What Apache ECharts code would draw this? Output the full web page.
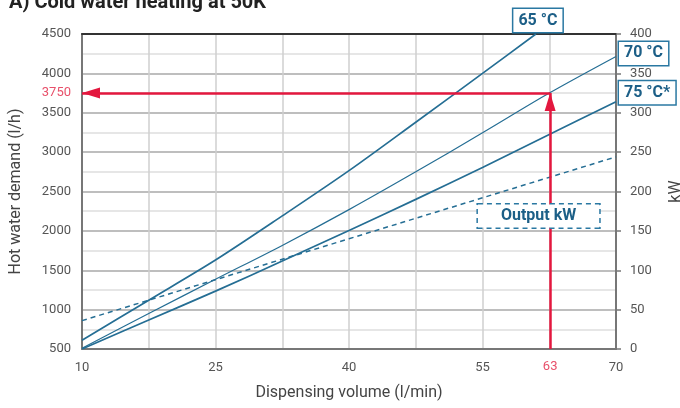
<!DOCTYPE html>
<html>
<head>
<meta charset="utf-8">
<script src="https://cdn.jsdelivr.net/npm/echarts@6/dist/echarts.min.js"></script>
<style>
html, body { margin: 0; padding: 0; background: #fff; }
#main { width: 680px; height: 408px; }
</style>
</head>
<body>
<div id="main"></div>
<script>
// hot water demand (l/h) over dispensing volume (l/min)
var line65 = [[10, 610], [17.5, 1120], [25, 1630], [32.5, 2190], [40, 2765], [47.5, 3380], [55, 4000], [61, 4500]];
var line70 = [[10, 510], [17.5, 950], [25, 1385], [32.5, 1815], [40, 2270], [47.5, 2750], [55, 3245], [62.5, 3750], [70, 4215]];
var line75 = [[10, 500], [17.5, 868], [25, 1235], [32.5, 1617], [40, 2005], [47.5, 2400], [55, 2806], [62.5, 3225], [70, 3641]];
// output in kW (right axis)
var outputKw = [[10, 36], [25, 88], [40, 140], [55, 192], [70, 244]];

var xTicks = [10, 25, 40, 55, 70];
var pickFlow = 62.6, pickFlowLabel = '63';
var pickDemand = 3750;
var outputBoxAt = [61.3, 169];

var blue = '#256e94';
var boxBlue = '#1c5f87';
var red = '#e3173e';
var font = 'Roboto, "DejaVu Sans", sans-serif';

var myChart = echarts.init(document.getElementById('main'));

function boxLabel(pos, offset) {
    return {
        show: true,
        position: pos,
        distance: 2,
        offset: offset,
        formatter: '{b}',
        color: boxBlue,
        fontSize: 16,
        fontWeight: 'bold',
        fontFamily: font,
        backgroundColor: '#fff',
        borderColor: '#2a78a2',
        borderWidth: 1.5,
        padding: [4, 5, 3, 5]
    };
}

function tempBox(name, data, pos, offset) {
    return {
        silent: true,
        symbol: 'rect',
        symbolSize: 0,
        itemStyle: { color: 'transparent' },
        label: boxLabel(pos, offset),
        data: [{ name: name, coord: data[data.length - 1] }]
    };
}

function plain(v) { return String(v); }

var option = {
    animation: false,
    title: {
        text: 'A) Cold water heating at 50K',
        left: 4,
        top: -12,
        textStyle: { fontSize: 20, fontWeight: 'bold', color: '#222', fontFamily: font }
    },
    grid: { left: 82, right: 64, top: 34, bottom: 59, outerBoundsMode: 'none', containLabel: false },
    xAxis: [{
        type: 'value',
        min: 10,
        max: 70,
        interval: 7.5,
        name: 'Dispensing volume (l/min)',
        nameLocation: 'middle',
        nameGap: 36,
        nameTextStyle: { color: '#444', fontSize: 16, fontFamily: font },
        axisLine: { show: true, lineStyle: { color: '#777', width: 2 } },
        axisTick: { show: false },
        axisLabel: {
            color: '#555', fontSize: 13, margin: 12, fontFamily: font,
            formatter: function (v) { return xTicks.indexOf(v) >= 0 ? String(v) : ''; }
        },
        splitLine: { show: true, lineStyle: { color: '#cfcfcf', width: 1.5 } }
    }, {
        // dark top frame
        type: 'value',
        position: 'top',
        min: 10,
        max: 70,
        axisLine: { show: true, onZero: false, lineStyle: { color: '#333', width: 2 } },
        axisTick: { show: false },
        axisLabel: { show: false },
        splitLine: { show: false }
    }],
    yAxis: [{
        type: 'value',
        min: 500,
        max: 4500,
        interval: 500,
        name: 'Hot water demand (l/h)',
        nameLocation: 'middle',
        nameGap: 58,
        nameRotate: 90,
        nameTextStyle: { color: '#444', fontSize: 16, fontFamily: font },
        axisLine: { show: true, lineStyle: { color: '#777', width: 2 } },
        axisTick: { show: false },
        axisLabel: { color: '#555', fontSize: 13, margin: 11, fontFamily: font, formatter: plain },
        splitLine: { lineStyle: { color: '#a8a8a8', width: 1.5 } },
        minorTick: { show: false, splitNumber: 2 },
        minorSplitLine: { show: true, lineStyle: { color: '#dedede', width: 1.5 } }
    }, {
        type: 'value',
        min: 0,
        max: 400,
        interval: 50,
        position: 'right',
        name: 'kW',
        nameLocation: 'middle',
        nameGap: 52,
        nameRotate: 90,
        nameTextStyle: { color: '#444', fontSize: 16, fontFamily: font },
        axisLine: { show: true, onZero: false, lineStyle: { color: '#777', width: 2 } },
        axisTick: { show: true, length: 5, lineStyle: { color: '#777', width: 1.5 } },
        axisLabel: { color: '#555', fontSize: 13, margin: 14, fontFamily: font, formatter: plain },
        splitLine: { show: false }
    }],
    series: [{
        name: '65 °C',
        type: 'line',
        data: line65,
        symbol: 'none',
        smooth: 0.3,
        z: 2,
        lineStyle: { color: blue, width: 1.7 },
        markPoint: tempBox('65 °C', line65, 'top', [2, 0])
    }, {
        name: '70 °C',
        type: 'line',
        data: line70,
        symbol: 'none',
        smooth: 0.3,
        z: 3,
        lineStyle: { color: blue, width: 1.2 },
        markPoint: tempBox('70 °C', line70, 'right', [1, -3]),
        markLine: {
            silent: true,
            symbol: ['none', 'triangle'],
            symbolSize: [11, 18],
            symbolOffset: [0, [0, '50%']],
            lineStyle: { color: red, width: 2.5, type: 'solid' },
            label: { color: '#e8506a', fontSize: 13, fontFamily: font },
            data: [
                [{ coord: [pickFlow, 500], label: { show: true, position: 'start', distance: 11, formatter: pickFlowLabel } },
                 { coord: [pickFlow, pickDemand] }],
                [{ coord: [pickFlow, pickDemand], label: { show: true, position: 'end', distance: 11, formatter: String(pickDemand) } },
                 { coord: [10, pickDemand] }]
            ]
        }
    }, {
        name: '75 °C*',
        type: 'line',
        data: line75,
        symbol: 'none',
        smooth: 0.3,
        z: 2,
        lineStyle: { color: blue, width: 1.7 },
        markPoint: tempBox('75 °C*', line75, 'right', [1, -9])
    }, {
        name: 'Output kW',
        type: 'line',
        yAxisIndex: 1,
        data: outputKw,
        symbol: 'none',
        z: 4,
        lineStyle: { color: blue, width: 1.5, type: [5, 4] },
        markPoint: {
            silent: true,
            symbol: 'rect',
            symbolSize: 0,
            itemStyle: { color: 'transparent' },
            label: {
                show: true,
                position: 'inside',
                formatter: '{b}',
                color: boxBlue,
                fontSize: 16,
                fontWeight: 'bold',
                fontFamily: font,
                backgroundColor: '#fff',
                borderColor: '#2a78a2',
                borderWidth: 1.5,
                borderType: [5, 4],
                padding: [4, 23, 3, 23]
            },
            data: [{ name: 'Output kW', coord: outputBoxAt }]
        }
    }]
};
myChart.setOption(option);
</script>
</body>
</html>
